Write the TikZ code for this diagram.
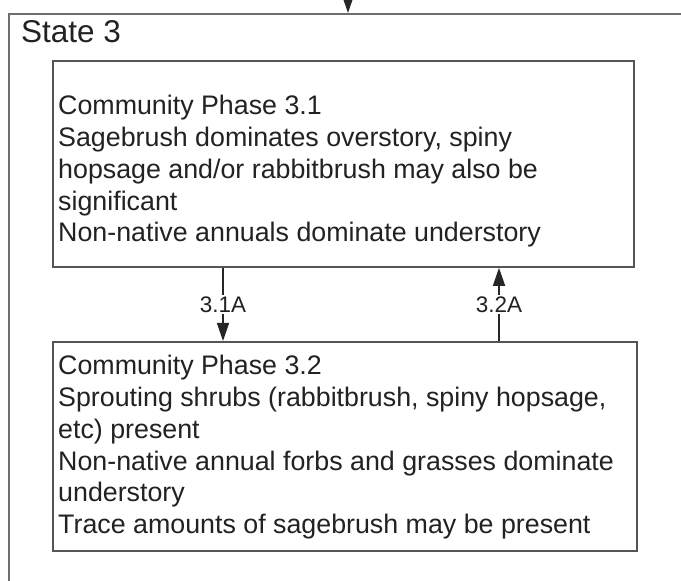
\documentclass[tikz,border=0pt]{standalone}
\usepackage{fontspec}
\setmainfont{Liberation Sans}
\usetikzlibrary{arrows.meta,calc}
\definecolor{boxline}{HTML}{555555}
\definecolor{outerline}{HTML}{6E6E6E}
\definecolor{txt}{HTML}{222222}
\begin{document}
\begin{tikzpicture}[x=1pt,y=1pt,
  phase/.style={draw=boxline,line width=1.8pt,fill=white,rectangle,inner sep=0pt,anchor=north west},
  ptext/.style={anchor=north west,inner sep=0pt,align=left,text=txt,font=\fontsize{26.8}{31.8}\selectfont},
  arr/.style={draw=black!85,line width=1.4pt,-{Triangle[length=18pt,width=12pt]}},
  lab/.style={fill=white,inner sep=1.5pt,text=txt,font=\fontsize{22.5}{25}\selectfont}]
\useasboundingbox (0,0) rectangle (681,581);
\clip (0,0) rectangle (681,581);
\fill[white] (0,0) rectangle (681,581);
% state container
\node[draw=outerline,line width=2.2pt,rectangle,inner sep=0pt,anchor=north west,minimum width=720pt,minimum height=620pt] (state) at (8,568) {};
\node[anchor=base west,inner sep=0pt,text=txt,font=\fontsize{31.5}{34}\selectfont] (title) at (21,538) {State 3};
\coordinate (in) at (348,610);
\draw[arr] (in) -- (in |- state.north);
% phases
\node[phase,minimum width=581pt,minimum height=206pt] (p1) at (52,521) {};
\node[ptext] (t1) at ($(p1.north west)+(6,-35)$) {Community Phase 3.1\\Sagebrush dominates overstory, spiny\\hopsage and/or rabbitbrush may also be\\significant\\Non-native annuals dominate understory};
\node[phase,minimum width=584pt,minimum height=209pt] (p2) at (52,240) {};
\node[ptext] (t2) at ($(p2.north west)+(6,-14)$) {Community Phase 3.2\\Sprouting shrubs (rabbitbrush, spiny hopsage,\\etc) present\\Non-native annual forbs and grasses dominate\\understory\\Trace amounts of sagebrush may be present};
% transitions
\coordinate (a1) at (223,0);
\coordinate (a2) at (499,0);
\draw[arr] (a1 |- p1.south) -- node[lab,pos=0.5] (l1) {3.1A} (a1 |- p2.north);
\draw[arr] (a2 |- p2.north) -- node[lab,pos=0.5] (l2) {3.2A} (a2 |- p1.south);
\end{tikzpicture}
\end{document}
